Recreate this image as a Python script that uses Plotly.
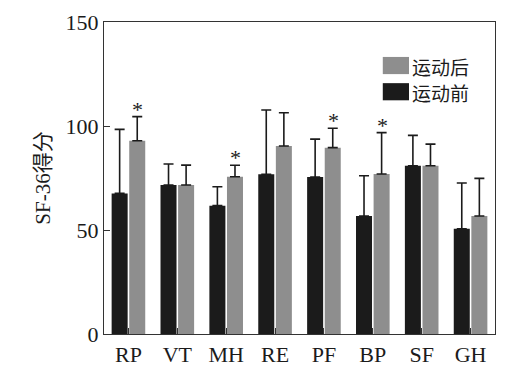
import plotly.graph_objects as go

categories = ["RP", "VT", "MH", "RE", "PF", "BP", "SF", "GH"]
before = [67.6, 71.6, 61.7, 76.8, 75.5, 56.7, 80.9, 50.6]
before_err = [30.8, 10.1, 9.1, 30.9, 18.2, 19.4, 14.6, 22.0]
after = [92.9, 71.6, 75.6, 90.4, 89.6, 76.9, 80.9, 56.7]
after_err = [11.6, 9.6, 5.5, 16.0, 9.3, 19.9, 10.4, 18.1]
significant = [True, False, True, False, True, True, False, False]
series_names = ["运动前", "运动后"]
colors = ["#1b1b1b", "#8e8e8e"]

FONT = "Liberation Serif, Times New Roman, serif"
CJK = "Noto Sans CJK SC"

fig = go.Figure()
fig.add_trace(go.Bar(
    x=categories, y=before, name=series_names[0], marker_color=colors[0],
    marker_line_width=0,
    error_y=dict(type="data", symmetric=False, array=before_err,
                 arrayminus=[0] * len(before), color="#1b1b1b", thickness=1.6, width=5),
    showlegend=False,
))
fig.add_trace(go.Bar(
    x=categories, y=after, name=series_names[1], marker_color=colors[1],
    marker_line_width=0,
    error_y=dict(type="data", symmetric=False, array=after_err,
                 arrayminus=[0] * len(after), color="#1b1b1b", thickness=1.6, width=5),
    showlegend=False,
))

for c, v, e, s in zip(categories, after, after_err, significant):
    if s:
        fig.add_annotation(x=c, y=v + e, text="*", showarrow=False, xshift=9.5,
                           yanchor="bottom", yshift=-7,
                           font=dict(family=FONT, size=22, color="#1b1b1b"))

# custom legend (gray first, then black)
legend_items = [(series_names[1], colors[1], 0.888), (series_names[0], colors[0], 0.804)]
for name, col, ytop in legend_items:
    fig.add_shape(type="rect", xref="paper", yref="paper",
                  x0=0.713, x1=0.780, y0=ytop - 0.055, y1=ytop,
                  fillcolor=col, line_width=0)
    fig.add_annotation(xref="paper", yref="paper", x=0.782, y=ytop - 0.0275,
                       text=name, showarrow=False, xanchor="left", yanchor="middle",
                       height=24, font=dict(family=CJK, size=19, color="#1b1b1b"))

# page body has an 8px default margin: shrink figure so it fits the 511x366 window
fig.update_layout(
    width=503, height=358,
    margin=dict(l=96, r=16, t=14, b=32),
    plot_bgcolor="white", paper_bgcolor="white",
    barmode="group", bargap=0.28, bargroupgap=0.09,
    font=dict(family=FONT, size=22, color="#1b1b1b"),
)
fig.update_xaxes(
    showline=True, linecolor="#333", linewidth=1.3, mirror=True,
    ticks="inside", ticklen=6, tickcolor="#333", automargin=False,
    tickfont=dict(family=FONT, size=22),
)
fig.update_yaxes(
    range=[0, 150], tickvals=[0, 50, 100, 150],
    showline=True, linecolor="#333", linewidth=1.3, mirror=True,
    ticks="inside", ticklen=6, tickcolor="#333", showgrid=False, zeroline=False,
    tickfont=dict(family=FONT, size=22), automargin=False,
    title=dict(text="SF-36得分", standoff=9,
               font=dict(family=FONT + ", Noto Sans CJK SC", size=21)),
)

fig.write_html("out.html")
